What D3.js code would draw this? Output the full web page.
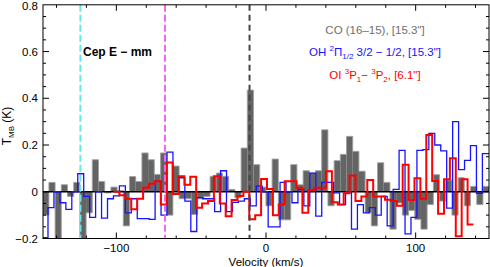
<!DOCTYPE html>
<html><head><meta charset="utf-8">
<script src="https://cdn.jsdelivr.net/npm/d3@7"></script>
<style>body{margin:0;background:#fff}svg{display:block}text{font-family:"Liberation Sans",Arial,sans-serif}</style>
</head><body><svg id="c" width="490" height="267"></svg>
<script>
// CO (16-15) spectrum: channel start velocity, channel width (km/s), T_MB values (K)
const coStart = -149.2, coStep = 4.143;
const coValues = [-0.10, 0.04, -0.22, 0.03, -0.02, 0.04, -0.22, -0.09, 0.137, 0.044,
 -0.005, 0.02, 0.005, -0.146, 0.065, 0.044, 0.166, 0.137, 0.074, 0.166,
 -0.10, 0.11, -0.03, -0.03, -0.097, -0.03, -0.02, 0.066, 0.08, 0.066,
 0.01, -0.026, 0.187, 0.435, 0.116, 0.02, -0.06, 0.14, -0.12, -0.12,
 0.116, 0.03, 0.09, 0.08, 0.09, 0.265, -0.06, 0.133, 0.16, 0.237,
 0.173, 0.088, -0.09, -0.146, 0.124, 0.04, -0.16, -0.048, -0.1, -0.08,
 -0.118, -0.16, -0.055, 0.073, -0.04, 0.05, -0.1, 0.06, -0.06, 0.023,
 -0.055, 0.023];
// OH 2Pi1/2 3/2-1/2
const ohStart = -149.64, ohStep = 3.976;
const ohValues = [-0.196, -0.068, 0.0, -0.047, -0.075, 0.0, 0.077, -0.02, -0.11, 0.0,
 -0.113, -0.03, -0.018, 0.025, -0.09, -0.03, -0.115, -0.115, -0.118, 0.045,
 -0.10, 0.17, -0.01, 0.06, -0.04, -0.17, -0.025, -0.03, -0.03, -0.085,
 0.09, -0.085, -0.045, -0.04, -0.03, -0.06, 0.024, 0.0, -0.15, -0.15,
 0.04, 0.0, -0.047, 0.01, -0.06, 0.08, -0.104, 0.04, 0.04, -0.005,
 -0.055, 0.0, -0.16, -0.055, -0.09, -0.068, -0.1, -0.02, -0.146, 0.01,
 0.177, -0.18, -0.11, 0.177, 0.18, 0.25, 0.2, 0.175, -0.07, 0.3,
 0.095, 0.134, 0.197, -0.007, 0.163, 0.163];
// OI 3P1-3P2
const oiStart = -101.83, oiStep = 3.942;
const oiValues = [0.0, -0.015, -0.03, -0.075, -0.03, 0.017, 0.034, 0.045, -0.054, 0.125,
 -0.01, 0.066, 0.03, 0.064, -0.068, -0.05, -0.04, 0.066, -0.05, -0.105,
 -0.035, -0.018, 0.0, -0.118, -0.1, 0.055, 0.012, -0.1, -0.055, 0.045,
 0.045, 0.017, -0.09, 0.007, 0.017, 0.017, 0.088, -0.045, -0.055, -0.006,
 0.07, -0.04, -0.02, 0.05, -0.02, -0.02, -0.034, -0.04, -0.06, 0.116,
 -0.035, 0.058, -0.03, 0.243, 0.046, -0.094, 0.054, 0.143, -0.19, 0.054,
 -0.14];
// reference velocities (dashed lines)
const refVelocities = [-124, -67.5, -11];
const refColors = ["#66e8e8", "#f466f4", "#454545"];
const xTickLabels = [-100, 0, 100];
const yTickLabels = [-0.2, 0, 0.2, 0.4, 0.6, 0.8];

const svg = d3.select("#c");
const L = 43, R = 489, T = 4.8, B = 238.5;
const x = d3.scaleLinear().domain([-149, 149]).range([L, R]);
const y = d3.scaleLinear().domain([-0.2, 0.8]).range([B, T]);

svg.append("defs").append("clipPath").attr("id", "clip")
  .append("rect").attr("x", L).attr("y", T).attr("width", R - L).attr("height", B - T);
const g = svg.append("g").attr("clip-path", "url(#clip)");

function stepPts(start, step, vals) {
  const p = vals.map((v, i) => [start + i * step, v]);
  p.push([start + vals.length * step, vals[vals.length - 1]]);
  return p;
}
const line = d3.line().x(d => x(d[0])).y(d => y(d[1])).curve(d3.curveStepAfter);

// CO bars
g.selectAll("rect.co").data(coValues).join("rect").attr("class", "co")
  .attr("x", (d, i) => x(coStart + i * coStep))
  .attr("width", (d, i) => x(coStart + (i + 1) * coStep) - x(coStart + i * coStep))
  .attr("y", d => Math.min(y(d), y(0)))
  .attr("height", d => Math.abs(y(d) - y(0)))
  .attr("fill", "#646464");
g.append("path").attr("d", line(stepPts(coStart, coStep, coValues)))
  .attr("fill", "none").attr("stroke", "#a0a0a0").attr("stroke-width", 0.9);

// zero line
g.append("line").attr("x1", L).attr("x2", R).attr("y1", y(0)).attr("y2", y(0))
  .attr("stroke", "#000").attr("stroke-width", 1.3);

// OH
g.append("path").attr("d", line(stepPts(ohStart, ohStep, ohValues)))
  .attr("fill", "none").attr("stroke", "#1414ff").attr("stroke-width", 1.3);
// OI
g.append("path").attr("d", line(stepPts(oiStart, oiStep, oiValues)))
  .attr("fill", "none").attr("stroke", "#ff0000").attr("stroke-width", 2);

// reference lines
refVelocities.forEach((v, i) => {
  g.append("line").attr("x1", x(v)).attr("x2", x(v)).attr("y1", T).attr("y2", B)
    .attr("stroke", refColors[i]).attr("stroke-width", 2)
    .attr("stroke-dasharray", i === 2 ? "6,4" : "7,3");
});

// frame
svg.append("rect").attr("x", L).attr("y", T).attr("width", R - L).attr("height", B - T)
  .attr("fill", "none").attr("stroke", "#000").attr("stroke-width", 1);

// ticks
const tk = svg.append("g").attr("stroke", "#000").attr("stroke-width", 1);
d3.range(-140, 141, 20).forEach(v => {
  const len = (v % 100 === 0) ? 6 : 3;
  tk.append("line").attr("x1", x(v)).attr("x2", x(v)).attr("y1", B).attr("y2", B - len);
  tk.append("line").attr("x1", x(v)).attr("x2", x(v)).attr("y1", T).attr("y2", T + len);
});
d3.range(-0.15, 0.8, 0.05).forEach(v => {
  const major = Math.abs(Math.round(v * 5) - v * 5) < 1e-6;
  const len = major ? 6 : 3;
  tk.append("line").attr("x1", L).attr("x2", L + len).attr("y1", y(v)).attr("y2", y(v));
  tk.append("line").attr("x1", R).attr("x2", R - len).attr("y1", y(v)).attr("y2", y(v));
});

const fmt = v => (v < 0 ? "\u2212" : "") + (Math.abs(v) === 0 ? "0" : String(Math.abs(v)));
svg.selectAll("text.xl").data(xTickLabels).join("text").attr("class", "xl")
  .attr("x", d => x(d)).attr("y", 251.5).attr("text-anchor", "middle")
  .attr("font-size", 11.5).text(fmt);
svg.selectAll("text.yl").data(yTickLabels).join("text").attr("class", "yl")
  .attr("x", 38).attr("y", d => Math.max(y(d) + 4, 9.5)).attr("text-anchor", "end")
  .attr("font-size", 11.5).text(fmt);

// axis titles
svg.append("text").attr("x", x(0)).attr("y", 265.5).attr("text-anchor", "middle")
  .attr("font-size", 11.5).text("Velocity (km/s)");
const yt = svg.append("text").attr("transform", "translate(11,126) rotate(-90)")
  .attr("text-anchor", "middle").attr("font-size", 12);
yt.append("tspan").text("T");
yt.append("tspan").attr("font-size", 8).attr("dy", 3).text("MB");
yt.append("tspan").attr("dy", -3).text(" (K)");

// annotations
svg.append("text").attr("x", 83).attr("y", 56).attr("font-size", 12)
  .attr("font-weight", "bold").text("Cep E \u2212 mm");

svg.append("text").attr("x", 375).attr("y", 33.5).attr("text-anchor", "middle")
  .attr("font-size", 11.5).attr("fill", "#6e6e6e").text("CO (16\u201315), [15.3\"]");

const oh = svg.append("text").attr("x", 375).attr("y", 56).attr("text-anchor", "middle")
  .attr("font-size", 11.5).attr("fill", "#1414ff");
oh.append("tspan").text("OH ");
oh.append("tspan").attr("font-size", 8).attr("dy", -5).text("2");
oh.append("tspan").attr("dy", 5).text("\u03A0");
oh.append("tspan").attr("font-size", 8).attr("dy", 3).text("1/2");
oh.append("tspan").attr("dy", -3).text(" 3/2 \u2212 1/2, [15.3\"]");

const oi = svg.append("text").attr("x", 375).attr("y", 78.5).attr("text-anchor", "middle")
  .attr("font-size", 11.5).attr("fill", "#ff0000");
oi.append("tspan").text("OI ");
oi.append("tspan").attr("font-size", 8).attr("dy", -5).text("3");
oi.append("tspan").attr("dy", 5).text("P");
oi.append("tspan").attr("font-size", 8).attr("dy", 3).text("1");
oi.append("tspan").attr("dy", -3).text("\u2212 ");
oi.append("tspan").attr("font-size", 8).attr("dy", -5).text("3");
oi.append("tspan").attr("dy", 5).text("P");
oi.append("tspan").attr("font-size", 8).attr("dy", 3).text("2");
oi.append("tspan").attr("dy", -3).text(", [6.1\"]");
</script></body></html>
